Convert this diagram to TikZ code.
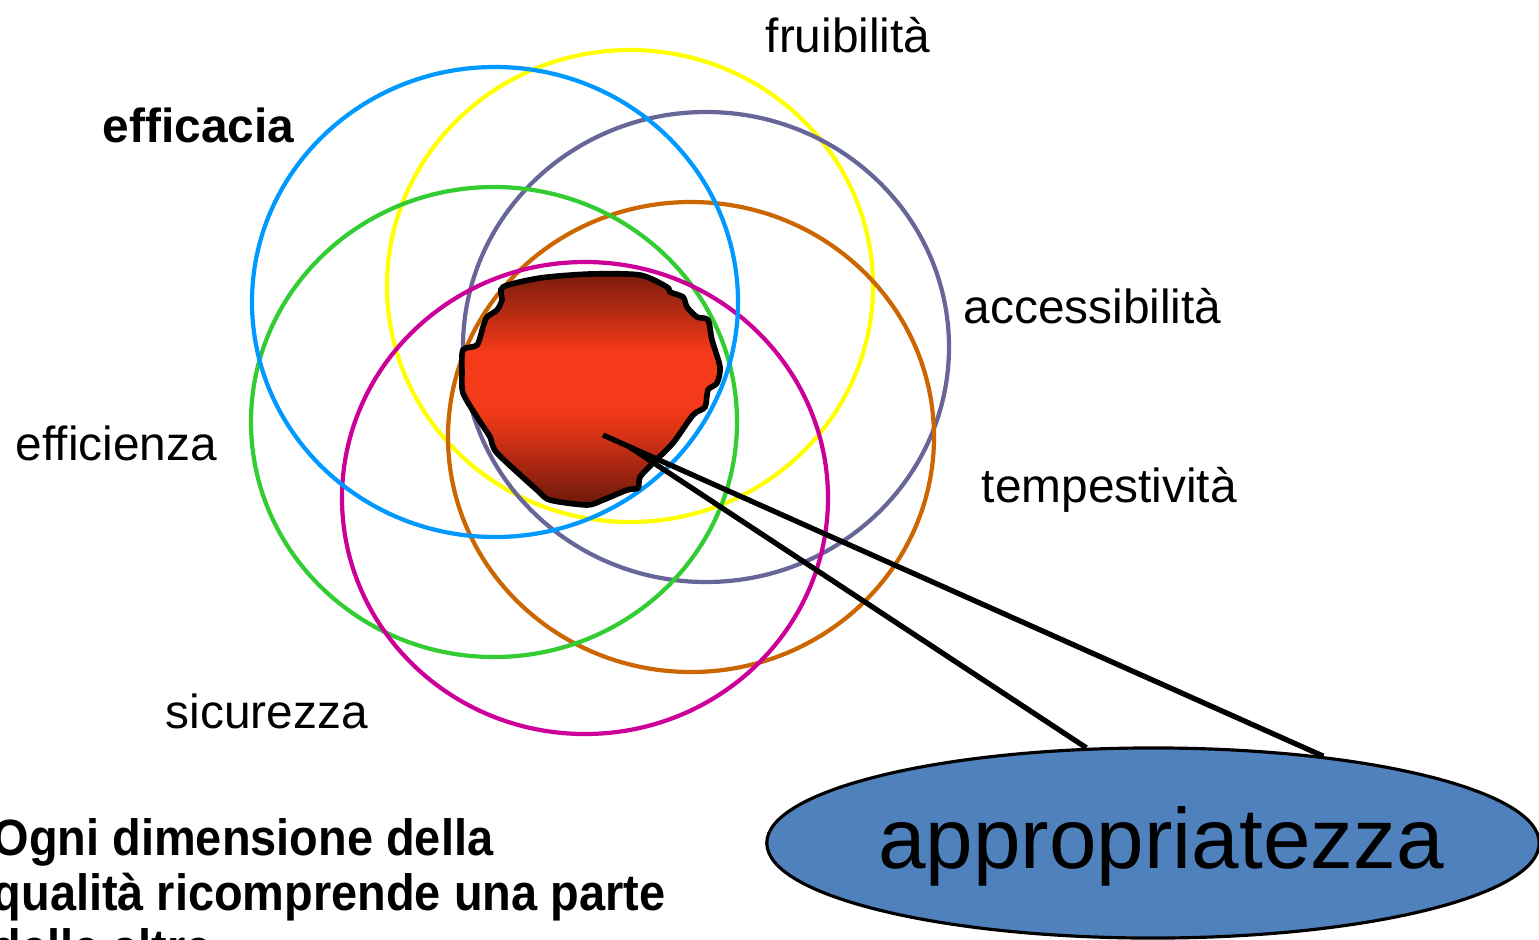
\documentclass[tikz,border=0pt]{standalone}
\usepackage{fontspec}
\setmainfont{Liberation Sans}
\newfontfamily\notefont[FakeStretch=0.92]{Liberation Sans}
\usetikzlibrary{shapes.geometric}

\definecolor{ringblue}{RGB}{0,153,255}
\definecolor{ringyellow}{RGB}{255,255,0}
\definecolor{ringslate}{RGB}{102,102,153}
\definecolor{ringorange}{RGB}{204,102,0}
\definecolor{ringgreen}{RGB}{51,204,51}
\definecolor{ringmagenta}{RGB}{204,0,153}
\definecolor{appfill}{RGB}{79,129,189}
\definecolor{blobtop}{RGB}{122,28,12}
\definecolor{blobbottom}{RGB}{108,24,10}
\definecolor{blobbright}{RGB}{245,58,25}

% the core: dark at top and bottom, bright in a wide middle band
\pgfdeclareverticalshading{blobshade}{100bp}{
  color(0bp)=(blobbottom); color(25bp)=(blobbottom);
  color(41bp)=(blobbright!90!black); color(47bp)=(blobbright);
  color(58bp)=(blobbright); color(75bp)=(blobtop); color(100bp)=(blobtop)}

\begin{document}
\begin{tikzpicture}[x=0.01cm,
                    y=-0.01cm,
                    %one unit = one pixel of the reference
                    ring/.style={line width=1.2pt},
                    dim label/.style={anchor=base west,inner sep=0pt,
                                      font=\fontsize{13.6}{16}\selectfont},
                    note/.style={anchor=base west,inner sep=0pt,
                                 font=\notefont\bfseries\fontsize{14.5}{16}\selectfont},
                    callout/.style={line width=1.5pt}]

  \useasboundingbox (0,0) rectangle (1539,939);
  \clip (0,0) rectangle (1539,939);

  % the six dimensions
  \draw[ring,ringyellow]  (630,286) ellipse [x radius=243,y radius=236];
  \draw[ring,ringslate]   (706,347) ellipse [x radius=243,y radius=235];
  \draw[ring,ringorange]  (691,437) ellipse [x radius=243,y radius=235];
  \draw[ring,ringgreen]   (494,422) ellipse [x radius=243,y radius=235];
  \draw[ring,ringmagenta] (585,498) ellipse [x radius=243,y radius=236];
  \draw[ring,ringblue]    (495,302) ellipse [x radius=243,y radius=235];

  % common core
  \draw[line width=1.6pt,shading=blobshade]
    plot[smooth cycle,tension=0.45] coordinates {
      (503,287) (540,278) (590,274) (640,275) (667,287) (670,292) (683,297)
      (687,307) (697,317) (708,320) (712,340) (720,367) (717,383) (708,390)
      (705,407) (693,415) (673,443) (653,463) (640,477) (638,488) (627,490)
      (603,500) (587,505) (550,500) (537,490) (497,453) (490,437) (477,417)
      (463,393) (462,373) (463,350) (477,345) (483,327) (487,317) (497,310)
      (502,300)};

  \node[dim label] (fru)  at (765,52)  {fruibilità};
  \node[dim label,font=\bfseries\fontsize{13.6}{16}\selectfont] (eff) at (102,142) {efficacia};
  \node[dim label] (acc)  at (963,323) {accessibilità};
  \node[dim label] (effz) at (15,460)  {efficienza};
  \node[dim label] (temp) at (981,502) {tempestività};
  \node[dim label] (sic)  at (165,728) {sicurezza};

  \node[ellipse,draw,line width=0.9pt,fill=appfill,inner sep=0pt,
        minimum width=7.72cm,minimum height=1.9cm] (app) at (1153,843) {};
  \node[anchor=base,inner sep=0pt,font=\fontsize{24.3}{28}\selectfont] (apptext) at (1161,868) {appropriatezza};

  \coordinate (tip)  at (603,435);
  \coordinate (fork) at (628,446);
  \draw[callout] (tip) -- (app.27);
  \draw[callout] (fork) -- (app.125);

  \node[note] (note1) at (-8,855) {Ogni dimensione della};
  \node[note] (note2) at (-8,910) {qualità ricomprende una parte};
  \node[note] (note3) at (-8,965) {delle altre};
\end{tikzpicture}
\end{document}
